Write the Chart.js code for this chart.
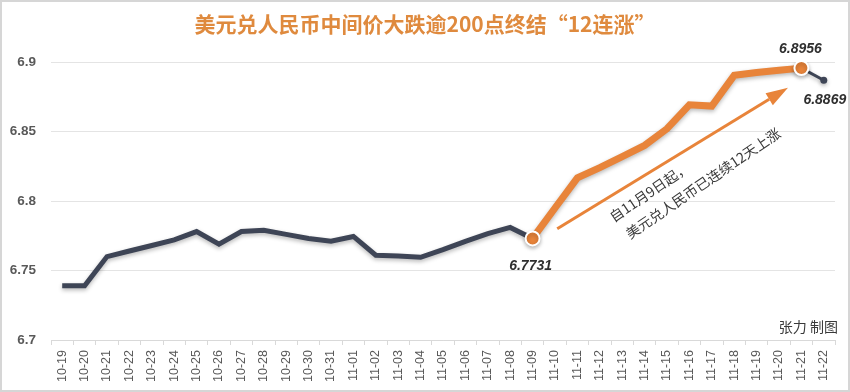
<!DOCTYPE html>
<html>
<head>
<meta charset="utf-8">
<script src="https://cdn.jsdelivr.net/npm/chart.js@4/dist/chart.umd.min.js"></script>
<style>
  html, body { margin: 0; padding: 0; background: #fff; }
  #wrap { width: 850px; height: 392px; position: relative; }
</style>
</head>
<body>
<div id="wrap"><canvas id="rateChart" width="850" height="392"></canvas></div>
<script>
// 日期
const dates = [
  "10-19", "10-20", "10-21", "10-22", "10-23", "10-24", "10-25", "10-26",
  "10-27", "10-28", "10-29", "10-30", "10-31", "11-01", "11-02", "11-03",
  "11-04", "11-05", "11-06", "11-07", "11-08", "11-09", "11-10", "11-11",
  "11-12", "11-13", "11-14", "11-15", "11-16", "11-17", "11-18", "11-19",
  "11-20", "11-21", "11-22"
];
// 美元兑人民币中间价
const rates = [
  6.739, 6.739, 6.760, 6.764, 6.768, 6.772, 6.778, 6.769,
  6.778, 6.779, 6.776, 6.773, 6.771, 6.7745, 6.761, 6.7605,
  6.7595, 6.765, 6.771, 6.7765, 6.781, 6.7731, 6.795, 6.8166,
  6.824, 6.832, 6.840, 6.852, 6.8692, 6.8683, 6.8904, 6.8925,
  6.894, 6.8956, 6.8869
];
const yTicks = [6.7, 6.75, 6.8, 6.85, 6.9];
const riseStart = "11-09";
const riseEnd = "11-21";
const labelled = ["11-09", "11-21", "11-22"];
const titleText = "美元兑人民币中间价大跌逾200点终结“12连涨”";
const noteLines = ["自11月9日起，", "美元兑人民币已连续12天上涨"];
const credit = "张力 制图";

const dark = "#3e4556";
const orange = "#e8843a";

const i0 = dates.indexOf(riseStart);
const i1 = dates.indexOf(riseEnd);

const darkData = rates.map((v, i) => (i <= i0 || i >= i1 ? v : null));
const orangeData = rates.map((v, i) => (i >= i0 && i <= i1 ? v : null));

const shadowPlugin = {
  id: "shadow",
  beforeDatasetDraw(chart) {
    const ctx = chart.ctx;
    ctx.save();
    ctx.shadowColor = "rgba(0,0,0,0.28)";
    ctx.shadowBlur = 4;
    ctx.shadowOffsetY = 2;
  },
  afterDatasetDraw(chart) {
    chart.ctx.restore();
  },
};

const notesPlugin = {
  id: "notes",
  afterDraw(chart) {
    const ctx = chart.ctx;
    const x = chart.scales.x;
    const y = chart.scales.y;
    const px = (d) => x.getPixelForValue(dates.indexOf(d));
    const py = (d) => y.getPixelForValue(rates[dates.indexOf(d)]);

    ctx.save();
    // 标题
    ctx.fillStyle = "#df8a3e";
    ctx.font = "bold 21px 'Noto Sans CJK SC'";
    ctx.textAlign = "center";
    ctx.textBaseline = "middle";
    ctx.fillText(titleText, 425, 24);

    // 数值标签
    ctx.fillStyle = "#2f2f2f";
    ctx.font = "italic bold 14px 'Liberation Sans'";
    const a = labelled[0], b = labelled[1], c = labelled[2];
    ctx.fillText(rates[dates.indexOf(a)].toFixed(4), px(a) - 2, py(a) + 28);
    ctx.fillText(rates[dates.indexOf(b)].toFixed(4), px(b) - 1, py(b) - 19);
    ctx.fillText(rates[dates.indexOf(c)].toFixed(4), px(c) + 1, py(c) + 20);

    // 箭头
    const sx = x.getPixelForValue(22.1), sy = y.getPixelForValue(6.780);
    const ex = x.getPixelForValue(32.4), ey = y.getPixelForValue(6.8815);
    const ang = Math.atan2(ey - sy, ex - sx);
    const head = 22;
    ctx.strokeStyle = orange;
    ctx.fillStyle = orange;
    ctx.lineWidth = 3;
    ctx.beginPath();
    ctx.moveTo(sx, sy);
    ctx.lineTo(ex - head * Math.cos(ang), ey - head * Math.sin(ang));
    ctx.stroke();
    ctx.beginPath();
    ctx.moveTo(ex, ey);
    ctx.lineTo(ex - head * Math.cos(ang) + 7 * Math.sin(ang), ey - head * Math.sin(ang) - 7 * Math.cos(ang));
    ctx.lineTo(ex - head * Math.cos(ang) - 7 * Math.sin(ang), ey - head * Math.sin(ang) + 7 * Math.cos(ang));
    ctx.closePath();
    ctx.fill();

    // 说明文字
    ctx.fillStyle = "#3a3a3a";
    ctx.font = "14px 'Noto Sans CJK SC'";
    ctx.textAlign = "left";
    ctx.translate(x.getPixelForValue(24.5), y.getPixelForValue(6.7875));
    ctx.rotate(-0.6);
    ctx.fillText(noteLines[0], 0, 0);
    ctx.fillText(noteLines[1], 4, 23);
    ctx.restore();

    ctx.save();
    ctx.fillStyle = "#3a3a3a";
    ctx.font = "14px 'Noto Sans CJK SC'";
    ctx.textAlign = "right";
    ctx.textBaseline = "middle";
    ctx.fillText(credit, 838, 327);

    // 外框
    ctx.strokeStyle = "#d6d6d6";
    ctx.lineWidth = 2;
    ctx.strokeRect(1, 1, 848, 390);
    ctx.restore();
  },
};

new Chart(document.getElementById("rateChart"), {
  type: "line",
  data: {
    labels: dates,
    datasets: [
      {
        data: orangeData,
        borderColor: orange,
        backgroundColor: orange,
        borderWidth: 7,
        pointRadius: orangeData.map((v, i) => (i === i0 || i === i1 ? 7 : 0)),
        pointBackgroundColor: orange,
        pointBorderColor: "#fff",
        pointBorderWidth: 2,
        tension: 0,
        order: 1,
      },
      {
        data: darkData,
        borderColor: dark,
        backgroundColor: dark,
        borderWidth: 5,
        segment: {
          borderWidth: (c) => (c.p0DataIndex >= i1 ? 3 : 5),
        },
        pointRadius: darkData.map((v, i) => (i === dates.length - 1 ? 3.5 : 0)),
        pointBackgroundColor: dark,
        pointBorderWidth: 0,
        tension: 0,
        order: 2,
      },
    ],
  },
  options: {
    responsive: false,
    animation: false,
    layout: { padding: { top: 62, right: 15, left: 0, bottom: 0 } },
    plugins: {
      legend: { display: false },
      tooltip: { enabled: false },
    },
    scales: {
      x: {
        offset: true,
        grid: {
          offset: true,
          drawOnChartArea: false,
          drawTicks: true,
          tickLength: 5,
          color: "#d9d9d9",
        },
        border: { color: "#d9d9d9" },
        ticks: {
          minRotation: 90,
          maxRotation: 90,
          autoSkip: false,
          padding: 5,
          color: "#595959",
          font: { family: "'Liberation Sans'", size: 12.5 },
        },
        afterFit: (s) => { s.height = 52; },
      },
      y: {
        min: yTicks[0],
        max: yTicks[yTicks.length - 1],
        afterBuildTicks: (s) => { s.ticks = yTicks.map((v) => ({ value: v })); },
        grid: { color: "#e4e4e4", drawTicks: false },
        border: { display: false },
        ticks: {
          padding: 15,
          color: "#595959",
          font: { family: "'Liberation Sans'", size: 13.5, weight: "bold" },
          callback: (v) => String(v),
        },
        afterFit: (s) => { s.width = 51; },
      },
    },
  },
  plugins: [shadowPlugin, notesPlugin],
});
</script>
</body>
</html>
